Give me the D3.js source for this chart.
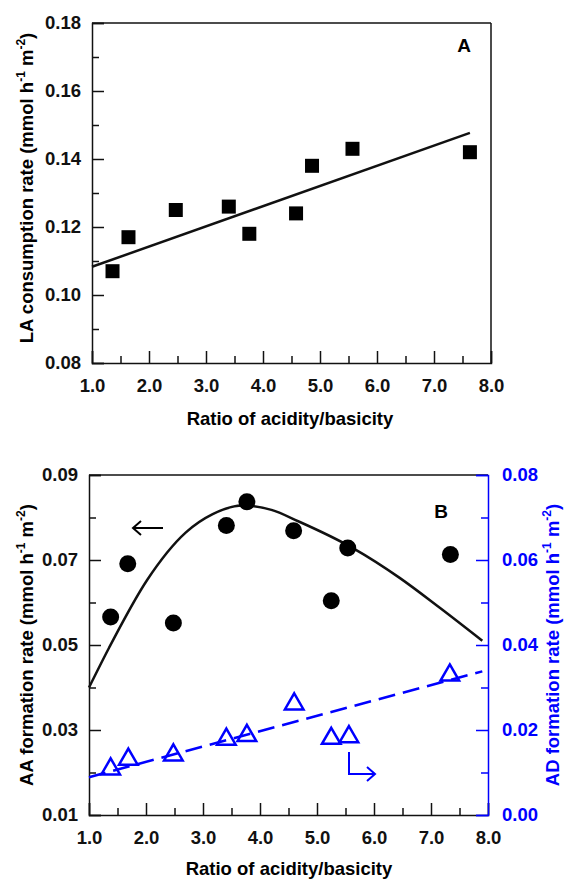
<!DOCTYPE html>
<html>
<head>
<meta charset="utf-8">
<script src="https://cdn.jsdelivr.net/npm/d3@7"></script>
<style>
  body { margin: 0; background: #fff; }
  text { font-family: "Liberation Sans", Arial, sans-serif; font-weight: bold; }
</style>
</head>
<body>
<div id="chart"></div>
<script>
// panel A: LA consumption rate vs acidity/basicity ratio
const ratioA = [1.36, 1.64, 2.47, 3.40, 3.76, 4.58, 4.86, 5.57, 7.63];
const laRate = [0.107, 0.117, 0.125, 0.126, 0.118, 0.124, 0.138, 0.143, 0.142];
const laFit = [[1.0, 0.1083], [7.63, 0.1477]];

// panel B: AA (left axis) and AD (right axis) formation rates
const ratioAA = [1.38, 1.68, 2.48, 3.41, 3.77, 4.59, 5.25, 5.54, 7.34];
const aaRate = [0.0566, 0.0691, 0.0552, 0.0781, 0.0837, 0.0769, 0.0604, 0.0728, 0.0713];
const aaCurve = [[1.0, 0.0400], [1.35, 0.0493], [2.02, 0.0653], [2.7, 0.0765], [3.17, 0.0808],
  [3.7, 0.0828], [4.2, 0.0818], [4.69, 0.0790], [5.63, 0.0728], [6.45, 0.0658],
  [7.16, 0.0587], [7.9, 0.0510]];

const ratioAD = [1.38, 1.69, 2.48, 3.41, 3.77, 4.60, 5.25, 5.56, 7.33];
const adRate = [0.0108, 0.0131, 0.0141, 0.0178, 0.0187, 0.0261, 0.0180, 0.0184, 0.0329];
const adFit = [[1.0, 0.0089], [7.9, 0.0338]];

const xTicks = [1, 2, 3, 4, 5, 6, 7, 8];
const xMinor = [1.5, 2.5, 3.5, 4.5, 5.5, 6.5, 7.5];
const yTicksA = [0.08, 0.10, 0.12, 0.14, 0.16, 0.18];
const yMinorA = [0.09, 0.11, 0.13, 0.15, 0.17];
const yTicksAA = [0.01, 0.03, 0.05, 0.07, 0.09];
const yMinorAA = [0.02, 0.04, 0.06, 0.08];
const yTicksAD = [0.00, 0.02, 0.04, 0.06, 0.08];
const yMinorAD = [0.01, 0.03, 0.05, 0.07];

const width = 565, height = 881;
const blue = '#0000ff', ink = '#111';
const fontSize = 18.5;

const svg = d3.select('#chart').append('svg')
  .attr('width', width).attr('height', height);

const xA = d3.scaleLinear().domain([1, 8]).range([92, 491]);
const yA = d3.scaleLinear().domain([0.08, 0.18]).range([363, 23]);
const xB = d3.scaleLinear().domain([1, 8]).range([89, 488]);
const yB = d3.scaleLinear().domain([0.01, 0.09]).range([815, 475]);
const yB2 = d3.scaleLinear().domain([0, 0.08]).range([815, 475]);

function styleAxis(g, color) {
  g.selectAll('.domain').attr('stroke', color).attr('stroke-width', 1.5);
  g.selectAll('.tick line').attr('stroke', color).attr('stroke-width', 1.5);
  g.selectAll('.tick text').attr('fill', color)
    .attr('font-size', fontSize).attr('font-family', '"Liberation Sans", Arial, sans-serif')
    .attr('font-weight', 'bold');
}

function minorAxis(axis, vals, y0, x0, color) {
  const g = svg.append('g').attr('transform', `translate(${x0},${y0})`)
    .call(axis.tickValues(vals).tickSize(-7).tickFormat(''));
  g.select('.domain').remove();
  g.selectAll('.tick line').attr('stroke', color).attr('stroke-width', 1.5);
}

function drawFrame(x, y, opts) {
  const [x0, x1] = x.range();
  const [y1, y0] = y.range();
  // top and right edges
  svg.append('line').attr('x1', x0).attr('x2', x1).attr('y1', y0).attr('y2', y0)
    .attr('stroke', ink).attr('stroke-width', 1.5);
  if (opts.rightEdge) {
    svg.append('line').attr('x1', x1).attr('x2', x1).attr('y1', y0).attr('y2', y1)
      .attr('stroke', ink).attr('stroke-width', 1.5);
  }
  const gx = svg.append('g').attr('transform', `translate(0,${y1})`)
    .call(d3.axisBottom(x).tickValues(xTicks).tickSize(-12).tickPadding(12)
      .tickFormat(d3.format('.1f')));
  styleAxis(gx, ink);
  gx.selectAll('.tick text').attr('dy', '0.9em');
  minorAxis(d3.axisBottom(x), xMinor, y1, 0, ink);

  const gy = svg.append('g').attr('transform', `translate(${x0},0)`)
    .call(d3.axisLeft(y).tickValues(opts.yTicks).tickSize(-12).tickPadding(11)
      .tickFormat(d3.format('.2f')));
  styleAxis(gy, ink);
  minorAxis(d3.axisLeft(y), opts.yMinor, 0, x0, ink);
}

function rotatedTitle(cx, cy, main, color) {
  const t = svg.append('text')
    .attr('transform', `translate(${cx},${cy}) rotate(-90)`)
    .attr('text-anchor', 'middle').attr('fill', color).attr('font-size', fontSize);
  t.append('tspan').text(main + ' (mmol h');
  t.append('tspan').attr('dy', -8).attr('font-size', 12).text('-1');
  t.append('tspan').attr('dy', 8).text(' m');
  t.append('tspan').attr('dy', -8).attr('font-size', 12).text('-2');
  t.append('tspan').attr('dy', 8).text(')');
}

// ---------- panel A ----------
drawFrame(xA, yA, { yTicks: yTicksA, yMinor: yMinorA, rightEdge: true });

const line = d3.line().x(d => d[0]).y(d => d[1]);

svg.append('path')
  .attr('d', line(laFit.map(d => [xA(d[0]), yA(d[1])])))
  .attr('fill', 'none').attr('stroke', ink).attr('stroke-width', 2.5);

const sq = 14;
svg.append('g').selectAll('rect').data(ratioA).join('rect')
  .attr('x', d => xA(d) - sq / 2)
  .attr('y', (d, i) => yA(laRate[i]) - sq / 2)
  .attr('width', sq).attr('height', sq).attr('fill', '#000');

svg.append('text').attr('x', 464).attr('y', 52).attr('text-anchor', 'middle')
  .attr('font-size', 19).attr('fill', '#000').text('A');

rotatedTitle(33, 188, 'LA consumption rate', '#000');
svg.append('text').attr('x', 290).attr('y', 425).attr('text-anchor', 'middle')
  .attr('font-size', fontSize).attr('fill', '#000').text('Ratio of acidity/basicity');

// ---------- panel B ----------
drawFrame(xB, yB, { yTicks: yTicksAA, yMinor: yMinorAA, rightEdge: false });

// right (blue) axis
const gr = svg.append('g').attr('transform', `translate(${xB.range()[1]},0)`)
  .call(d3.axisRight(yB2).tickValues(yTicksAD).tickSize(-12).tickPadding(14)
    .tickFormat(d3.format('.2f')));
styleAxis(gr, blue);
minorAxis(d3.axisRight(yB2), yMinorAD, 0, xB.range()[1], blue);

// AA curve + points
svg.append('path')
  .attr('d', d3.line().x(d => xB(d[0])).y(d => yB(d[1])).curve(d3.curveMonotoneX)(aaCurve))
  .attr('fill', 'none').attr('stroke', ink).attr('stroke-width', 2.5);

svg.append('g').selectAll('circle').data(ratioAA).join('circle')
  .attr('cx', d => xB(d)).attr('cy', (d, i) => yB(aaRate[i]))
  .attr('r', 8.5).attr('fill', '#000');

// AD dashed fit + triangles
svg.append('path')
  .attr('d', line(adFit.map(d => [xB(d[0]), yB2(d[1])])))
  .attr('fill', 'none').attr('stroke', blue).attr('stroke-width', 2.5)
  .attr('stroke-dasharray', '17,8');

const tri = d3.symbol().type(d3.symbolTriangle).size(150);
svg.append('g').selectAll('path').data(ratioAD).join('path')
  .attr('transform', (d, i) => `translate(${xB(d)},${yB2(adRate[i])})`)
  .attr('d', tri).attr('fill', 'none').attr('stroke', blue).attr('stroke-width', 2.5);

// direction arrows
svg.append('path').attr('d', 'M133,528 H163 M141,521 L133,528 L141,535')
  .attr('fill', 'none').attr('stroke', '#000').attr('stroke-width', 2);
svg.append('path').attr('d', 'M349,752 V774 H375 M367,767 L375,774 L367,781')
  .attr('fill', 'none').attr('stroke', blue).attr('stroke-width', 2);

svg.append('text').attr('x', 441).attr('y', 518).attr('text-anchor', 'middle')
  .attr('font-size', 19).attr('fill', '#000').text('B');

rotatedTitle(33, 645, 'AA formation rate', '#000');
rotatedTitle(559, 645, 'AD formation rate', blue);
svg.append('text').attr('x', 289).attr('y', 875).attr('text-anchor', 'middle')
  .attr('font-size', fontSize).attr('fill', '#000').text('Ratio of acidity/basicity');
</script>
</body>
</html>
